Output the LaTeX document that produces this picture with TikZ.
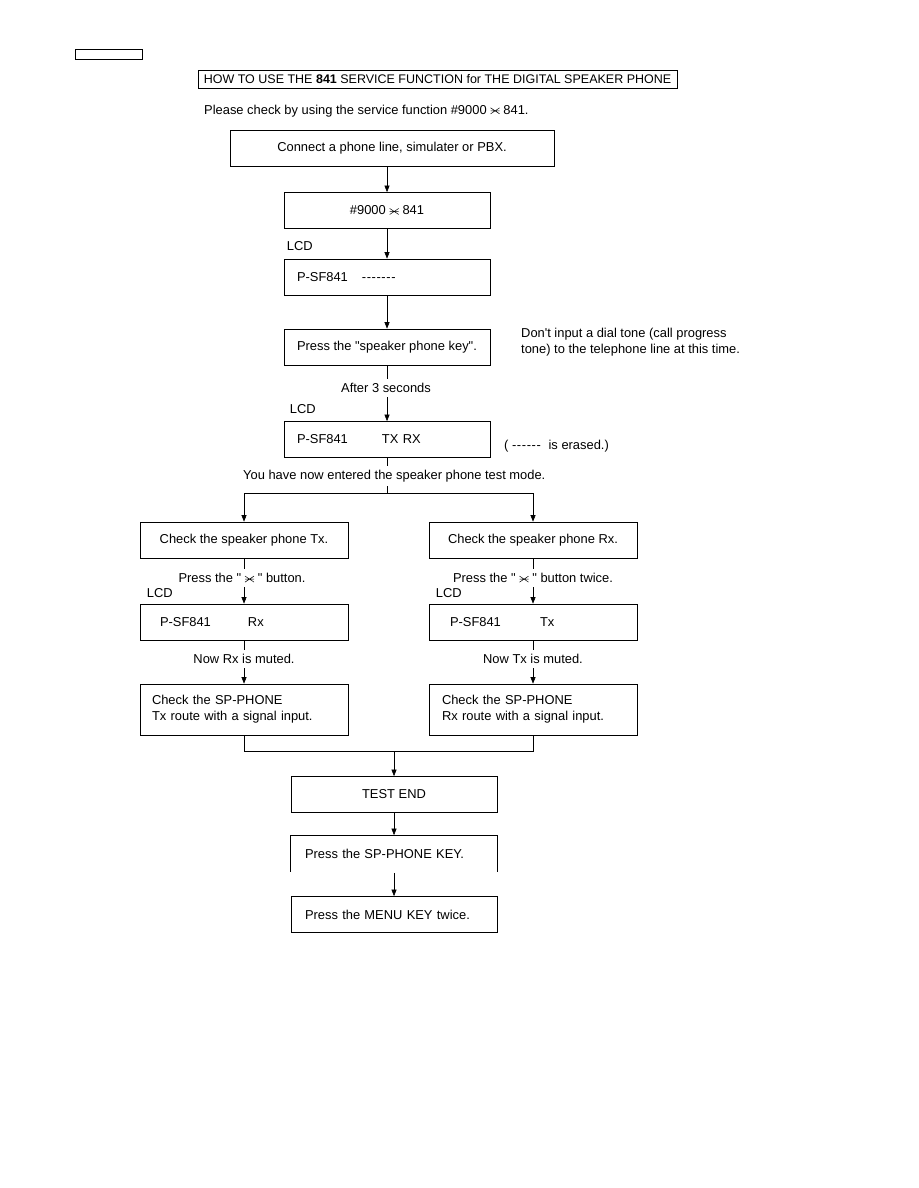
\documentclass[tikz,border=0pt]{standalone}
\usepackage{fontspec}
\setmainfont{Liberation Sans}[Ligatures=TeXOff]
\usetikzlibrary{arrows.meta,positioning}

% the telephone star key
\newcommand{\keystar}{\tikz[baseline=0pt,x=1pt,y=1pt,line width=0.5pt]{\draw (0,0.5)--(9,6.5) (0,6.5)--(9,0.5) (0,3.5)--(9,3.5);}}
\newcommand{\lcddash}[1]{\foreach \i in {1,...,#1}{-\kern0.6pt}}
\newcommand{\sq}{\symbol{34}}

\tikzset{
  flowbox/.style={draw, line width=0.7pt, minimum width=206pt, minimum height=36pt, inner sep=0pt},
  lcdbox/.style={flowbox, text width=#1, align=left},
  link/.style={line width=0.6pt},
  arr/.style={link, -{Triangle[length=6.5pt,width=5pt]}},
  onlink/.style={fill=white, inner xsep=2pt, inner ysep=4pt},
  lcdlabel/.style={anchor=base west, inner sep=0pt},
}

\begin{document}
\begin{tikzpicture}[x=1pt, y=-1pt, font=\fontsize{12.9}{16}\selectfont]
    \useasboundingbox (0,0) rectangle (918,1188);

    % header
    \node[draw, line width=0.7pt, minimum width=67pt, minimum height=10pt, inner sep=0pt] (tag) at (108.5,54) {};
    \node[draw, line width=0.7pt, minimum width=479pt, minimum height=18pt, inner sep=0pt, font=\fontsize{12.5}{15}\selectfont] (title) at (437.5,79)
        {HOW TO USE THE \textbf{841} SERVICE FUNCTION for THE DIGITAL SPEAKER PHONE};
    \node[anchor=west, inner sep=0pt] (intro) at (204,111) {Please check by using the service function \#9000 \keystar{} 841.};

    % main column
    \node[flowbox, minimum width=324pt] (connect) at (392,148.5) {Connect a phone line, simulater or PBX.};
    \node[flowbox] (dial) at (387,210.5) {\#9000 \keystar{} 841};
    \node[lcdbox=180pt] (lcdA) at (387,277) {P-SF841\hspace{14pt}\lcddash{7}};
    \node[flowbox] (spkey) at (387,347) {Press the \sq speaker phone key\sq.};
    \node[lcdbox=180pt] (lcdB) at (387,439.5) {\makebox[85pt][l]{P-SF841}TX RX};

    \node[lcdlabel] (lcdlblA) at ([xshift=3pt,yshift=8pt]lcdA.north west) {LCD};
    \node[lcdlabel] (lcdlblB) at ([xshift=6pt,yshift=8pt]lcdB.north west) {LCD};

    \node[anchor=west, align=left, inner sep=0pt] (dialnote) at (521,342)
        {Don't input a dial tone (call progress\\tone) to the telephone line at this time.};
    \node[anchor=west, inner sep=0pt] (erased) at (504,446) {( \lcddash{6}\ \ is erased.)};

    % Tx and Rx branches
    \node[flowbox, minimum width=208pt] (chkTx) at (244,540) {Check the speaker phone Tx.};
    \node[flowbox, minimum width=208pt] (chkRx) at (533,540) {Check the speaker phone Rx.};
    \node[lcdbox=168pt, minimum width=208pt] (lcdTx) at (244,622) {\makebox[88pt][l]{P-SF841}Rx};
    \node[lcdbox=166pt, minimum width=208pt] (lcdRx) at (533,622) {\makebox[90pt][l]{P-SF841}Tx};
    \node[lcdbox=184pt, minimum width=208pt, minimum height=51pt] (routeTx) at (244,709.5)
        {Check the SP-PHONE\\Tx route with a signal input.};
    \node[lcdbox=182pt, minimum width=208pt, minimum height=51pt] (routeRx) at (533,709.5)
        {Check the SP-PHONE\\Rx route with a signal input.};

    \node[lcdlabel] (lcdlblTx) at ([xshift=7pt,yshift=6pt]lcdTx.north west) {LCD};
    \node[lcdlabel] (lcdlblRx) at ([xshift=7pt,yshift=6pt]lcdRx.north west) {LCD};

    % end of test
    \node[flowbox] (testend) at (394,794.5) {TEST END};
    \node[lcdbox=178pt, draw=none] (spoff) at (394,853.5) {Press the SP-PHONE KEY.};
    \draw[line width=0.7pt] (spoff.south west) -- (spoff.north west) -- (spoff.north east) -- (spoff.south east);
    \node[lcdbox=178pt] (menu) at (394,914.5) {Press the MENU KEY twice.};

    % connectors
    \coordinate (split) at (387,493);
    \coordinate (merge) at (394,751);

    \draw[arr] (connect.south -| dial) -- (dial);
    \draw[arr] (dial) -- (lcdA);
    \draw[arr] (lcdA) -- (spkey);
    \draw[arr] (spkey) -- (lcdB);
    \draw[link] (lcdB) -- (split);
    \draw[arr] (split) -| (chkTx);
    \draw[arr] (split) -| (chkRx);

    \draw[arr] (chkTx) -- (lcdTx);
    \draw[arr] (chkRx) -- (lcdRx);
    \draw[arr] (lcdTx) -- (routeTx);
    \draw[arr] (lcdRx) -- (routeRx);

    \draw[link] (routeTx) |- (merge);
    \draw[link] (routeRx) |- (merge);
    \draw[arr] (merge) -- (testend);
    \draw[arr] (testend) -- (spoff);
    \draw[arr] ([yshift=-1pt]spoff.south) -- (menu);

    % texts on the connectors
    \node[onlink] (wait) at (386,388) {After 3 seconds};
    \node[onlink, anchor=west] (mode) at (241,476) {You have now entered the speaker phone test mode.};
    \node[onlink] (pressTx) at (242,578) {Press the \sq{} \keystar{} \sq{} button.};
    \node[onlink] (pressRx) at (533,578) {Press the \sq{} \keystar{} \sq{} button twice.};
    \node[onlink] (muteRx) at (244,659) {Now Rx is muted.};
    \node[onlink] (muteTx) at (533,659) {Now Tx is muted.};
\end{tikzpicture}
\end{document}
